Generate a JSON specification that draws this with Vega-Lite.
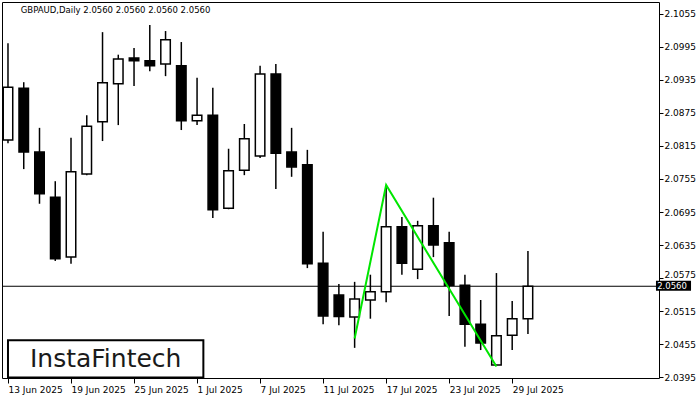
{
  "$schema": "https://vega.github.io/schema/vega-lite/v6.json",
  "width": 657,
  "height": 376,
  "autosize": {"type": "none"},
  "padding": {"left": 2, "top": 2, "right": 41, "bottom": 22},
  "background": "white",
  "config": {
    "view": {"stroke": "black", "strokeWidth": 1},
    "axis": {"labelFont": "DejaVu Sans", "labelFontSize": 9, "labelColor": "black", "tickColor": "black", "domain": false, "grid": false, "title": null, "labelOverlap": false, "labelFlush": false, "labelBound": false}
  },
  "datasets": {
    "candles": [
      {"i": 0, "date": "2025-06-13", "o": 2.0826, "h": 2.1002, "l": 2.0820, "c": 2.0922},
      {"i": 1, "date": "2025-06-16", "o": 2.0920, "h": 2.0931, "l": 2.0773, "c": 2.0804},
      {"i": 2, "date": "2025-06-17", "o": 2.0804, "h": 2.0848, "l": 2.0710, "c": 2.0728},
      {"i": 3, "date": "2025-06-18", "o": 2.0722, "h": 2.0751, "l": 2.0606, "c": 2.0610},
      {"i": 4, "date": "2025-06-19", "o": 2.0613, "h": 2.0830, "l": 2.0601, "c": 2.0768},
      {"i": 5, "date": "2025-06-20", "o": 2.0764, "h": 2.0871, "l": 2.0762, "c": 2.0851},
      {"i": 6, "date": "2025-06-23", "o": 2.0859, "h": 2.1022, "l": 2.0824, "c": 2.0930},
      {"i": 7, "date": "2025-06-24", "o": 2.0928, "h": 2.0981, "l": 2.0853, "c": 2.0973},
      {"i": 8, "date": "2025-06-25", "o": 2.0975, "h": 2.0993, "l": 2.0924, "c": 2.0970},
      {"i": 9, "date": "2025-06-26", "o": 2.0970, "h": 2.1035, "l": 2.0951, "c": 2.0961},
      {"i": 10, "date": "2025-06-27", "o": 2.0964, "h": 2.1024, "l": 2.0942, "c": 2.1008},
      {"i": 11, "date": "2025-06-30", "o": 2.0961, "h": 2.1004, "l": 2.0844, "c": 2.0861},
      {"i": 12, "date": "2025-07-01", "o": 2.0861, "h": 2.0939, "l": 2.0853, "c": 2.0871},
      {"i": 13, "date": "2025-07-02", "o": 2.0871, "h": 2.0921, "l": 2.0684, "c": 2.0699},
      {"i": 14, "date": "2025-07-03", "o": 2.0702, "h": 2.0810, "l": 2.0700, "c": 2.0770},
      {"i": 15, "date": "2025-07-04", "o": 2.0771, "h": 2.0855, "l": 2.0762, "c": 2.0828},
      {"i": 16, "date": "2025-07-07", "o": 2.0797, "h": 2.0961, "l": 2.0793, "c": 2.0946},
      {"i": 17, "date": "2025-07-08", "o": 2.0946, "h": 2.0964, "l": 2.0737, "c": 2.0802},
      {"i": 18, "date": "2025-07-09", "o": 2.0804, "h": 2.0848, "l": 2.0759, "c": 2.0777},
      {"i": 19, "date": "2025-07-10", "o": 2.0781, "h": 2.0808, "l": 2.0593, "c": 2.0601},
      {"i": 20, "date": "2025-07-11", "o": 2.0602, "h": 2.0659, "l": 2.0491, "c": 2.0506},
      {"i": 21, "date": "2025-07-14", "o": 2.0544, "h": 2.0564, "l": 2.0489, "c": 2.0505},
      {"i": 22, "date": "2025-07-15", "o": 2.0504, "h": 2.0568, "l": 2.0448, "c": 2.0537},
      {"i": 23, "date": "2025-07-16", "o": 2.0535, "h": 2.0581, "l": 2.0501, "c": 2.0550},
      {"i": 24, "date": "2025-07-17", "o": 2.0550, "h": 2.0744, "l": 2.0531, "c": 2.0668},
      {"i": 25, "date": "2025-07-18", "o": 2.0668, "h": 2.0686, "l": 2.0581, "c": 2.0602},
      {"i": 26, "date": "2025-07-21", "o": 2.0591, "h": 2.0679, "l": 2.0573, "c": 2.0670},
      {"i": 27, "date": "2025-07-22", "o": 2.0670, "h": 2.0721, "l": 2.0613, "c": 2.0635},
      {"i": 28, "date": "2025-07-23", "o": 2.0639, "h": 2.0659, "l": 2.0506, "c": 2.0562},
      {"i": 29, "date": "2025-07-24", "o": 2.0562, "h": 2.0581, "l": 2.0450, "c": 2.0491},
      {"i": 30, "date": "2025-07-25", "o": 2.0491, "h": 2.0535, "l": 2.0444, "c": 2.0457},
      {"i": 31, "date": "2025-07-28", "o": 2.0417, "h": 2.0584, "l": 2.0416, "c": 2.0470},
      {"i": 32, "date": "2025-07-29", "o": 2.0471, "h": 2.0533, "l": 2.0444, "c": 2.0501},
      {"i": 33, "date": "2025-07-30", "o": 2.0501, "h": 2.0624, "l": 2.0473, "c": 2.0560}
    ],
    "pattern": [
      {"i": 22, "p": 2.0465},
      {"i": 24, "p": 2.0744},
      {"i": 31, "p": 2.0414}
    ]
  },
  "layer": [
    {
      "data": {"name": "candles"},
      "mark": {"type": "rule", "color": "black", "strokeWidth": 1.5, "clip": true},
      "encoding": {
        "x": {"field": "i", "type": "quantitative", "scale": {"domain": [-0.0625, 41], "nice": false, "zero": false},
              "axis": {"orient": "bottom", "values": [0, 4, 8, 12, 16, 20, 24, 28, 32], "tickCount": 20, "labelExpr": "['13 Jun 2025','19 Jun 2025','25 Jun 2025','1 Jul 2025','7 Jul 2025','11 Jul 2025','17 Jul 2025','23 Jul 2025','29 Jul 2025'][datum.value/4]", "labelAlign": "left", "labelBaseline": "top", "tickSize": 5, "labelPadding": 2}},
        "y": {"field": "l", "type": "quantitative", "scale": {"domain": [2.03932, 2.10768], "nice": false, "zero": false},
              "axis": {"orient": "right", "values": [2.0395, 2.0455, 2.0515, 2.0575, 2.0635, 2.0695, 2.0755, 2.0815, 2.0875, 2.0935, 2.0995, 2.1055], "tickCount": 24, "format": ".4f", "tickSize": 4, "labelPadding": 1, "labelBaseline": "middle",
                       "labelOffset": {"condition": {"test": "datum.value > 2.057 && datum.value < 2.058", "value": -4}, "value": 0}}},
        "y2": {"field": "h"}
      }
    },
    {
      "data": {"values": [{}]},
      "mark": {"type": "rule", "color": "black", "strokeWidth": 1},
      "encoding": {
        "y": {"datum": 2.0560, "type": "quantitative"}
      }
    },
    {
      "data": {"name": "candles"},
      "mark": {"type": "bar", "size": 9.5, "stroke": "black", "strokeWidth": 1.5, "clip": true},
      "encoding": {
        "x": {"field": "i", "type": "quantitative"},
        "y": {"field": "o", "type": "quantitative"},
        "y2": {"field": "c"},
        "fill": {"condition": {"test": "datum.c >= datum.o", "value": "white"}, "value": "black"}
      }
    },
    {
      "data": {"name": "pattern"},
      "mark": {"type": "line", "color": "#00e600", "strokeWidth": 2},
      "encoding": {
        "x": {"field": "i", "type": "quantitative"},
        "y": {"field": "p", "type": "quantitative"}
      }
    },
    {
      "data": {"values": [{}]},
      "mark": {"type": "rect", "fill": "white", "stroke": "black", "strokeWidth": 2},
      "encoding": {
        "x": {"datum": 0, "type": "quantitative"},
        "x2": {"datum": 12.4},
        "y": {"datum": 2.0462, "type": "quantitative"},
        "y2": {"datum": 2.0394}
      }
    },
    {
      "data": {"values": [{}]},
      "mark": {"type": "text", "text": "InstaFintech", "font": "DejaVu Sans", "fontSize": 25, "fontWeight": "normal", "color": "#1a1a1a", "align": "center", "baseline": "middle"},
      "encoding": {
        "x": {"datum": 6.2, "type": "quantitative"},
        "y": {"datum": 2.0427, "type": "quantitative"}
      }
    },
    {
      "data": {"values": [{}]},
      "mark": {"type": "text", "text": "GBPAUD,Daily  2.0560 2.0560 2.0560 2.0560", "font": "DejaVu Sans", "fontSize": 8.5, "color": "black", "align": "left", "baseline": "middle"},
      "encoding": {
        "x": {"datum": 0.8125, "type": "quantitative"},
        "y": {"datum": 2.10623, "type": "quantitative"}
      }
    },
    {
      "data": {"values": [{}]},
      "mark": {"type": "rect", "fill": "black", "clip": false},
      "encoding": {
        "x": {"datum": 41.125, "type": "quantitative"},
        "x2": {"datum": 43.35},
        "y": {"datum": 2.05698, "type": "quantitative"},
        "y2": {"datum": 2.05518}
      }
    },
    {
      "data": {"values": [{}]},
      "mark": {"type": "text", "text": "2.0560", "font": "DejaVu Sans", "fontSize": 8.5, "color": "white", "align": "left", "baseline": "middle", "clip": false},
      "encoding": {
        "x": {"datum": 41.2, "type": "quantitative"},
        "y": {"datum": 2.05608, "type": "quantitative"}
      }
    }
  ]
}
